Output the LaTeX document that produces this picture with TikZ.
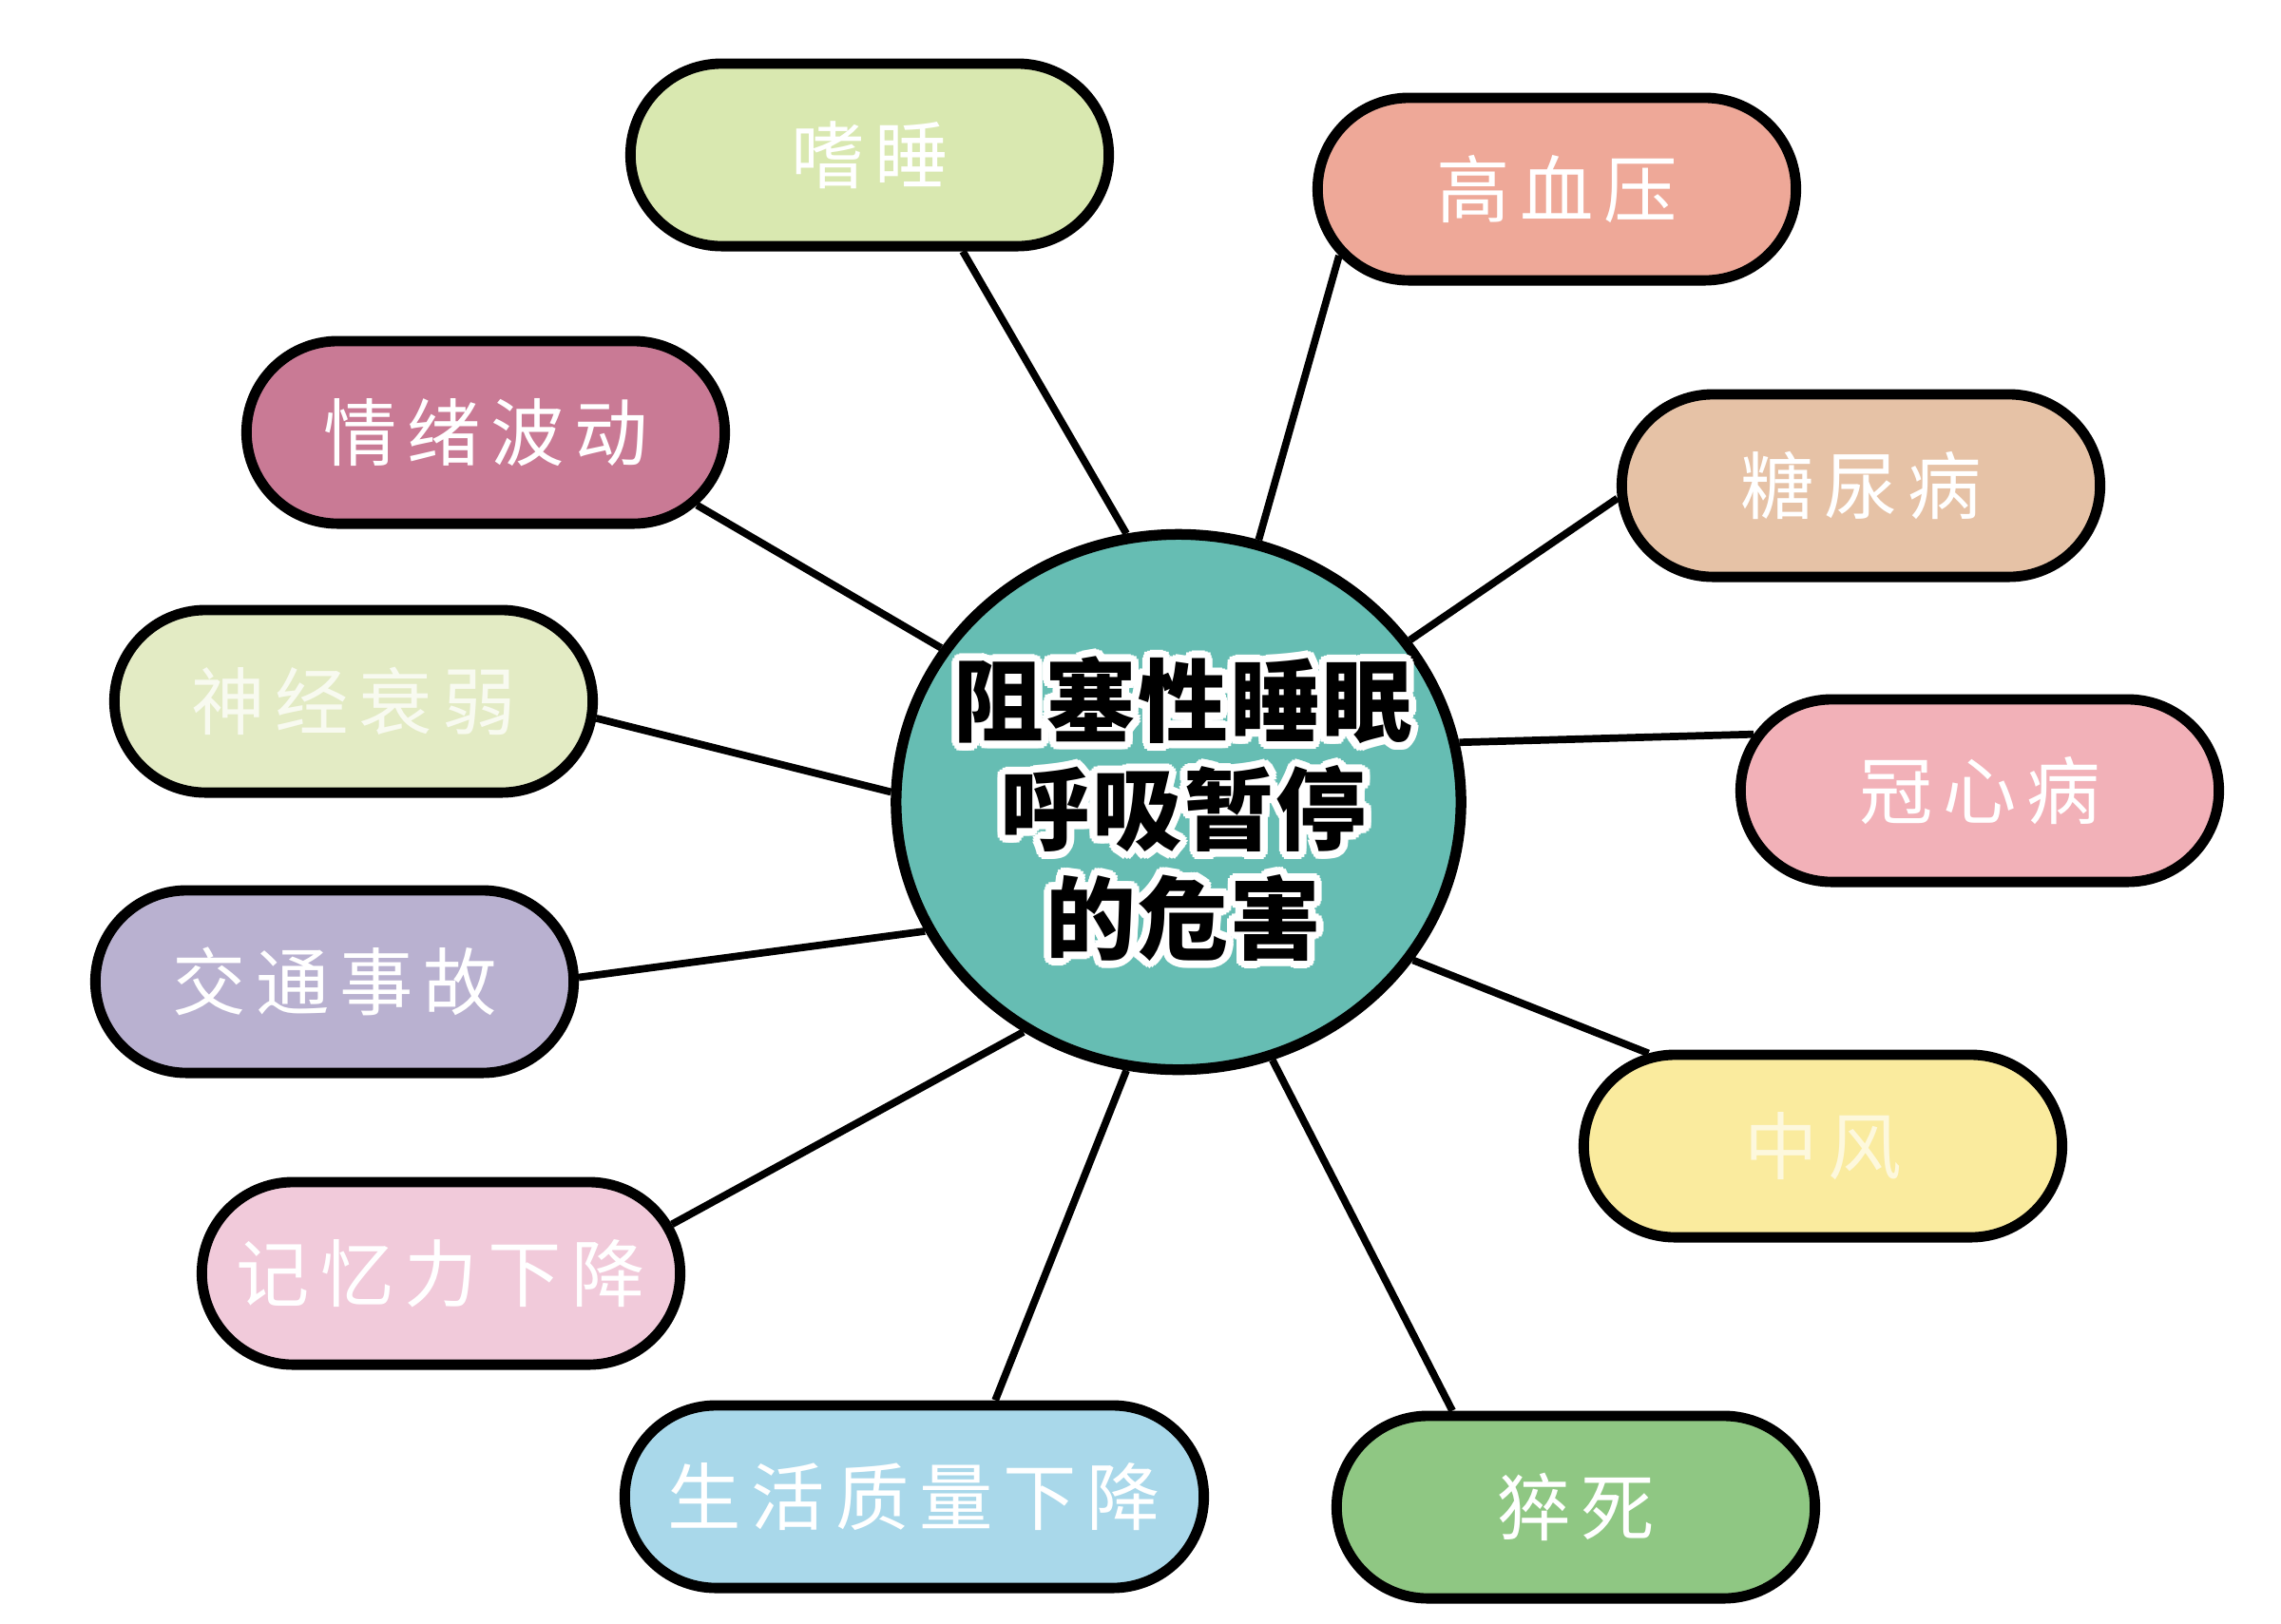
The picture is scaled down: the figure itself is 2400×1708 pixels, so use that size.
\documentclass[tikz,border=0pt]{standalone}
\usepackage{fontspec}
\newfontfamily\cjk[LetterSpace=14]{Noto Sans CJK SC}
\newfontfamily\cjkc[LetterSpace=2]{Noto Sans CJK SC}
\usepackage[copies]{contour}
\contourlength{2.3pt}
\usetikzlibrary{shapes.misc,shapes.geometric,backgrounds}
\definecolor{cteal}{RGB}{102,189,179}
\definecolor{cshui}{RGB}{217,232,176}
\definecolor{cgao}{RGB}{238,168,152}
\definecolor{cqing}{RGB}{201,122,149}
\definecolor{ctang}{RGB}{230,194,166}
\definecolor{cshen}{RGB}{227,235,196}
\definecolor{cguan}{RGB}{242,177,184}
\definecolor{cjiao}{RGB}{185,177,208}
\definecolor{czhong}{RGB}{250,235,158}
\definecolor{cji}{RGB}{241,202,218}
\definecolor{csheng}{RGB}{169,216,234}
\definecolor{ccu}{RGB}{143,199,131}
\tikzset{
  box/.style={rounded rectangle, draw=black, line width=3.1pt,
    minimum width=5.03cm, minimum height=1.92cm, inner sep=0pt,
    text=white, font=\cjk\fontsize{22}{26}\selectfont},
  hub/.style={ellipse, draw=black, line width=3.2pt, fill=cteal,
    minimum width=5.94cm, minimum height=5.63cm, inner sep=0pt},
  hubtext/.style={align=center, inner sep=0pt,
    font=\cjkc\bfseries\fontsize{27}{32.5}\selectfont},
  link/.style={line width=2.2pt, draw=black},
}
\begin{document}
\begin{tikzpicture}[x=0.01cm,y=-0.01cm]
\useasboundingbox (0,0) rectangle (2400,1708);
\node[hub] (c) at (1240,844) {};
\node[hubtext] (t) at (1245,855) {\contour{white}{阻塞性睡眠}\\\contour{white}{呼吸暂停}\\\contour{white}{的危害}};
\node[box, fill=cshui] (b1) at (915,163) {嗜睡};
\node[box, fill=cgao] (b2) at (1638,199) {高血压};
\node[box, fill=cqing] (b3) at (511,455) {情绪波动};
\node[box, fill=ctang] (b4) at (1958,511) {糖尿病};
\node[box, fill=cshen, text=white!75!cshen] (b5) at (372,738) {神经衰弱};
\node[box, fill=cguan] (b6) at (2083,832) {冠心病};
\node[box, fill=cjiao] (b7) at (352,1033) {交通事故};
\node[box, fill=czhong, text=white!65!czhong] (b8) at (1918,1206) {中风};
\node[box, fill=cji] (b9) at (464,1340) {记忆力下降};
\node[box, fill=csheng, minimum width=6.09cm] (b10) at (962,1575) {生活质量下降};
\node[box, fill=ccu] (b11) at (1658,1586) {猝死};
\begin{pgfonlayer}{background}
\draw[link] (b1.314.2) -- (c.101.8);
\draw[link] (b2.197.7) -- (c.73);
\draw[link] (b3.341.1) -- (c.147.6);
\draw[link] (b4.183.7) -- (c.35);
\draw[link] (b5.356.4) -- (c.178.9);
\draw[link] (b6.166.5) -- (c.12);
\draw[link] (b7.1.5) -- (c.207.5);
\draw[link] (b8.152.9) -- (c.326.8);
\draw[link] (b9.12.1) -- (c.236.9);
\draw[link] (b10.50.6) -- (c.259.5);
\draw[link] (b11.142.7) -- (c.290.9);
\end{pgfonlayer}
\end{tikzpicture}
\end{document}
